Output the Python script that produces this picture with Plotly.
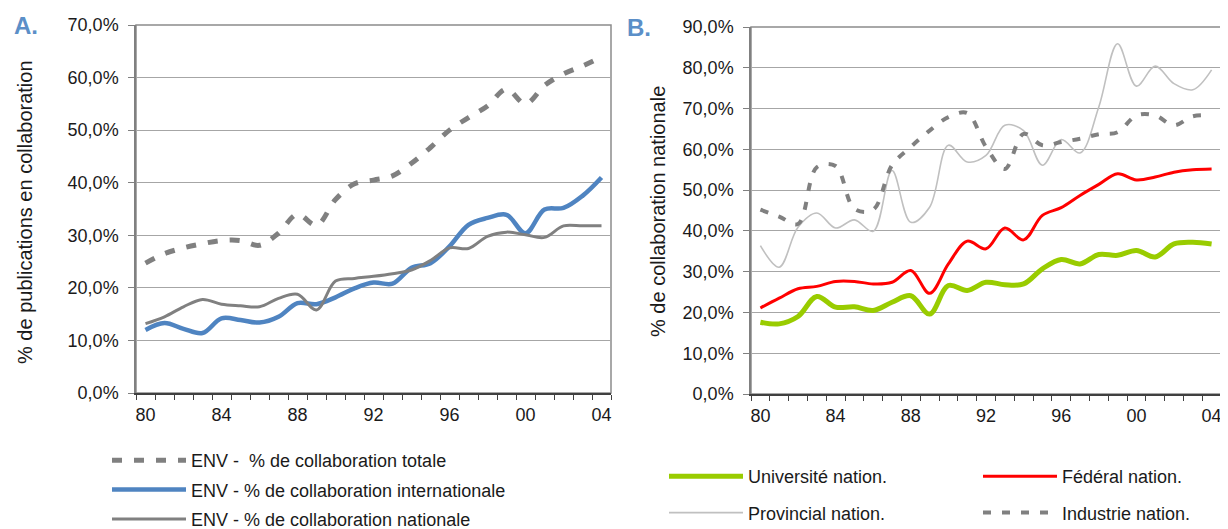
import plotly.graph_objects as go

# ---------------- data ----------------
years = list(range(1980, 2005))
tick_years = years[::4]
tick_labels = [str(y)[2:] for y in tick_years]

# Panel A (% of publications in collaboration)
a_totale = [24.7, 26.5, 27.6, 28.4, 29.0, 29.0, 28.1, 30.4, 34.0, 31.9, 36.8, 39.8, 40.5,
            41.3, 43.7, 46.7, 50.0, 52.4, 54.6, 57.8, 55.0, 58.5, 60.7, 62.2, 63.9]
a_internationale = [12.0, 13.3, 12.2, 11.4, 14.2, 13.9, 13.4, 14.5, 17.1, 16.9, 18.2, 19.9, 21.0,
                    20.8, 23.8, 24.7, 27.9, 32.0, 33.3, 33.9, 30.4, 34.9, 35.2, 37.5, 41.0]
a_nationale = [13.2, 14.5, 16.4, 17.8, 16.9, 16.6, 16.4, 18.0, 18.8, 15.8, 21.3, 21.8, 22.2,
               22.7, 23.4, 25.2, 27.6, 27.5, 29.8, 30.6, 30.1, 29.6, 31.8, 31.8, 31.8]

# Panel B (% national collaboration by sector)
b_universite = [17.6, 17.2, 19.0, 23.9, 21.3, 21.4, 20.5, 22.5, 24.1, 19.6, 26.6, 25.4, 27.4,
                26.8, 27.0, 30.7, 33.0, 31.9, 34.2, 34.0, 35.2, 33.6, 36.8, 37.2, 36.8]
b_federal = [21.1, 23.5, 25.8, 26.4, 27.6, 27.6, 27.0, 27.4, 30.3, 24.7, 31.9, 37.5, 35.6,
             40.7, 37.8, 43.8, 45.7, 48.7, 51.4, 54.0, 52.5, 53.2, 54.4, 55.0, 55.2]
b_provincial = [36.4, 31.1, 40.9, 44.4, 40.7, 42.7, 39.9, 54.8, 42.1, 45.8, 61.0, 56.9, 58.5,
                65.9, 64.6, 56.1, 62.4, 59.1, 70.4, 85.9, 75.5, 80.4, 76.1, 74.6, 79.5]
b_industrie = [45.2, 43.5, 41.7, 55.6, 55.9, 45.4, 45.2, 56.1, 60.6, 64.6, 67.9, 68.9, 60.6,
               55.2, 63.8, 61.0, 61.8, 62.6, 63.7, 64.2, 68.3, 68.3, 65.9, 68.1, 68.3]

# ---------------- styling ----------------
OFF = 8                      # page body margin
W, H = 1228 - OFF, 529 - OFF
FONT = "Liberation Sans, Arial, sans-serif"
GRAY = "#808080"
BLUE = "#4F84C1"
GREEN = "#99CC00"
RED = "#FF0000"
LIGHT = "#C0C0C0"
LABEL_BLUE = "#5B8FC8"
TXT = "#1a1a1a"


def fx(px):
    return (px - OFF) / W


def fy(py):
    return 1 - (py - OFF) / H


fig = go.Figure()


def add(x, y, name, color, width, dash, xa, ya, legend, group, rank):
    fig.add_trace(go.Scatter(
        x=x, y=y, name=name, mode="lines",
        line=dict(color=color, width=width, dash=dash, shape="spline", smoothing=1),
        xaxis=xa, yaxis=ya, legend=legend, legendgroup=group, legendrank=rank,
        hoverinfo="skip"))


add(years, a_totale, "ENV -\u00a0 % de collaboration totale", GRAY, 5, "10px,12px", "x", "y", "legend", "a1", 1)
add(years, a_internationale, "ENV - % de collaboration internationale", BLUE, 4.5, "solid", "x", "y", "legend", "a2", 2)
add(years, a_nationale, "ENV - % de collaboration nationale", GRAY, 3, "solid", "x", "y", "legend", "a3", 3)

add(years, b_provincial, "Provincial nation.", LIGHT, 1.6, "solid", "x2", "y2", "legend2", "b2", 2)
add(years, b_industrie, "Industrie nation.", GRAY, 4, "8px,11px", "x2", "y2", "legend3", "b4", 2)
add(years, b_federal, "Fédéral nation.", RED, 3, "solid", "x2", "y2", "legend3", "b3", 1)
add(years, b_universite, "Université nation.", GREEN, 5, "solid", "x2", "y2", "legend2", "b1", 1)


def xaxis_cfg(x0, x1):
    return dict(
        domain=[fx(x0), fx(x1)], range=[1979.5, 2004.5],
        tickmode="array", tickvals=tick_years, ticktext=tick_labels,
        ticks="outside", ticklen=5, tickcolor="rgba(0,0,0,0)",
        minor=dict(tick0=1979.5, dtick=1, ticks="outside", ticklen=5,
                   tickcolor="#404040", tickwidth=1, showgrid=False),
        showline=True, linecolor="#404040", linewidth=1.5,
        showgrid=False, zeroline=False, automargin=False,
        tickfont=dict(family=FONT, size=18, color=TXT),
    )


def yaxis_cfg(y0, y1, top):
    return dict(
        domain=[fy(y1), fy(y0)], range=[0, top], dtick=10, tick0=0,
        tickformat=".1f", ticksuffix="%",
        ticks="outside", ticklen=6, tickcolor="#808080",
        showline=True, linecolor="#808080", linewidth=1.5,
        showgrid=True, gridcolor="#A6A6A6", gridwidth=1,
        zeroline=False, automargin=False, ticklabelstandoff=6,
        tickfont=dict(family=FONT, size=18, color=TXT),
    )


legend_common = dict(
    xref="container", yref="container", xanchor="left", yanchor="top",
    orientation="v", itemwidth=74, bgcolor="rgba(0,0,0,0)",
    font=dict(family=FONT, size=18, color=TXT),
    traceorder="grouped",
)

fig.update_layout(
    width=W, height=H, template="none",
    paper_bgcolor="white", plot_bgcolor="white",
    margin=dict(l=0, r=0, t=0, b=0, autoexpand=False),
    separators=", ",
    showlegend=True,
    xaxis=xaxis_cfg(136, 611),
    yaxis=yaxis_cfg(25, 393, 70),
    xaxis2=dict(xaxis_cfg(751, 1221), anchor="y2"),
    yaxis2=dict(yaxis_cfg(27, 394, 90), anchor="x2"),
    legend=dict(legend_common, x=fx(107), y=fy(442), tracegroupgap=3),
    legend2=dict(legend_common, x=fx(664), y=fy(458), tracegroupgap=10),
    legend3=dict(legend_common, x=fx(978), y=fy(458), tracegroupgap=10),
    shapes=[
        dict(type="rect", xref="x domain", yref="y domain", x0=0, x1=1, y0=0, y1=1,
             line=dict(color="#8C8C8C", width=1.5), layer="below"),
        dict(type="rect", xref="x2 domain", yref="y2 domain", x0=0, x1=1, y0=0, y1=1,
             line=dict(color="#8C8C8C", width=1.5), layer="below"),
    ],
    annotations=[
        dict(text="<b>A.</b>", xref="paper", yref="paper", x=fx(12), y=fy(25),
             xanchor="left", yanchor="middle", showarrow=False,
             font=dict(family=FONT, size=24, color=LABEL_BLUE)),
        dict(text="<b>B.</b>", xref="paper", yref="paper", x=fx(625), y=fy(27),
             xanchor="left", yanchor="middle", showarrow=False,
             font=dict(family=FONT, size=24, color=LABEL_BLUE)),
        dict(text="% de publications en collaboration", xref="paper", yref="paper",
             x=fx(25), y=fy(212), textangle=-90, xanchor="center", yanchor="middle",
             showarrow=False, font=dict(family=FONT, size=20, color=TXT)),
        dict(text="% de collaboration nationale", xref="paper", yref="paper",
             x=fx(658), y=fy(212), textangle=-90, xanchor="center", yanchor="middle",
             showarrow=False, font=dict(family=FONT, size=20, color=TXT)),
    ],
)

fig.write_html("out.html")
